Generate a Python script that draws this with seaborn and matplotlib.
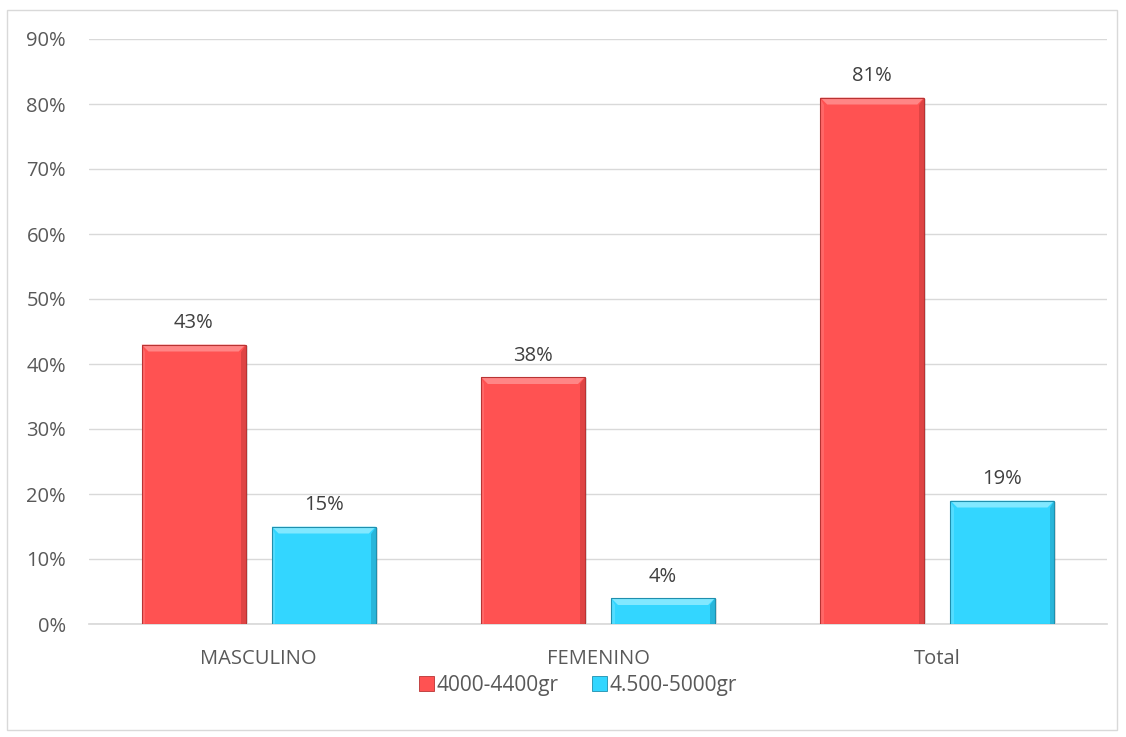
import matplotlib
matplotlib.use("Agg")
import matplotlib.pyplot as plt
import seaborn as sns
import pandas as pd
from matplotlib.patches import Rectangle, Polygon
from matplotlib.ticker import FuncFormatter

categories = ["MASCULINO", "FEMENINO", "Total"]
series_names = ["4000-4400gr", "4.500-5000gr"]
values_a = [43, 38, 81]
values_b = [15, 4, 19]
colors = ["#FF5252", "#33D6FF"]

df = pd.DataFrame({
    "cat": categories * 2,
    "serie": [series_names[0]] * 3 + [series_names[1]] * 3,
    "val": values_a + values_b,
})

sns.set_theme(style="white")
plt.rcParams['font.family'] = ['Open Sans', 'DejaVu Sans']

W, H = 1126, 737
fig = plt.figure(figsize=(W / 100, H / 100), dpi=100)
ax = fig.add_axes([89 / W, 1 - 624 / H, (1107 - 89) / W, (624 - 39) / H])

sns.barplot(data=df, x="cat", y="val", hue="serie", palette=colors,
            width=0.767, gap=0.2, ax=ax, legend=False, saturation=1,
            edgecolor="none", zorder=3)

ax.set_ylim(0, 90)
ax.set_xlim(-0.5, 2.5)
ax.set_yticks(range(0, 91, 10))
ax.yaxis.set_major_formatter(FuncFormatter(lambda v, p: f"{int(v)}%"))
ax.grid(axis="y", color="#D9D9D9", linewidth=1, zorder=0)
ax.set_xlabel("")
ax.set_ylabel("")
for s in ["top", "right", "left"]:
    ax.spines[s].set_visible(False)
ax.spines["bottom"].set_color("#D9D9D9")
ax.tick_params(axis="both", length=0, labelsize=14.5, labelcolor="#595959")
ax.tick_params(axis="y", pad=16.5)
ax.tick_params(axis="x", pad=18)

# bevel effect and labels
darks = {colors[0]: "#B83333", colors[1]: "#1F8FAD"}
lights = {colors[0]: "#FF9090", colors[1]: "#90ECFF"}
px_x = (2.5 - -0.5) / (1107 - 89)   # data units per pixel (x)
px_y = 90 / (624 - 39)              # data units per pixel (y)
for bar in ax.patches:
    h = bar.get_height()
    if h <= 0:
        continue
    x0 = bar.get_x(); w = bar.get_width()
    fc = bar.get_facecolor()
    key = min(colors, key=lambda c: sum(abs(a - b) for a, b in zip(matplotlib.colors.to_rgb(c), fc[:3])))
    bx = 7 * px_x
    by = 7 * px_y
    # shadow
    ax.add_patch(Rectangle((x0 + 2 * px_x, 0), w, h - 1 * px_y, facecolor="#000000",
                           alpha=0.12, edgecolor="none", zorder=2.5))
    # top bevel
    ax.add_patch(Polygon([[x0, h], [x0 + w, h], [x0 + w - bx, h - by], [x0 + bx, h - by]],
                         closed=True, facecolor=lights[key], edgecolor="none", alpha=0.85, zorder=4))
    # right bevel
    ax.add_patch(Polygon([[x0 + w, h], [x0 + w, 0], [x0 + w - bx * 0.7, 0], [x0 + w - bx * 0.7, h - by]],
                         closed=True, facecolor=darks[key], edgecolor="none", alpha=0.45, zorder=4))
    # left bevel
    ax.add_patch(Polygon([[x0, h], [x0, 0], [x0 + bx * 0.5, 0], [x0 + bx * 0.5, h - by]],
                         closed=True, facecolor=lights[key], edgecolor="none", alpha=0.35, zorder=4))
    ax.add_patch(Rectangle((x0, 0), w, h, facecolor="none", edgecolor=darks[key],
                           linewidth=0.8, zorder=5))
    ax.annotate(f"{int(round(h))}%", (x0 + w / 2, h), xytext=(0, 8), textcoords="offset points",
                ha="center", va="bottom", fontsize=14.5, color="#404040", zorder=6)

# legend
handles = [Rectangle((0, 0), 1, 1, facecolor=c, edgecolor=darks[c], linewidth=0.6) for c in colors]
leg = fig.legend(handles, series_names, loc="center", bbox_to_anchor=(578 / W, 1 - 685 / H),
                 ncol=2, frameon=False, fontsize=15, handlelength=0.7, handleheight=0.7,
                 handletextpad=0.15, columnspacing=1.6)
for t in leg.get_texts():
    t.set_color("#595959")

# outer border
fig.patches.append(Rectangle((7 / W, 1 - 730 / H), (1117 - 7) / W, (730 - 10) / H,
                             transform=fig.transFigure, facecolor="none",
                             edgecolor="#D9D9D9", linewidth=1))

fig.savefig("out.png", dpi=100)
